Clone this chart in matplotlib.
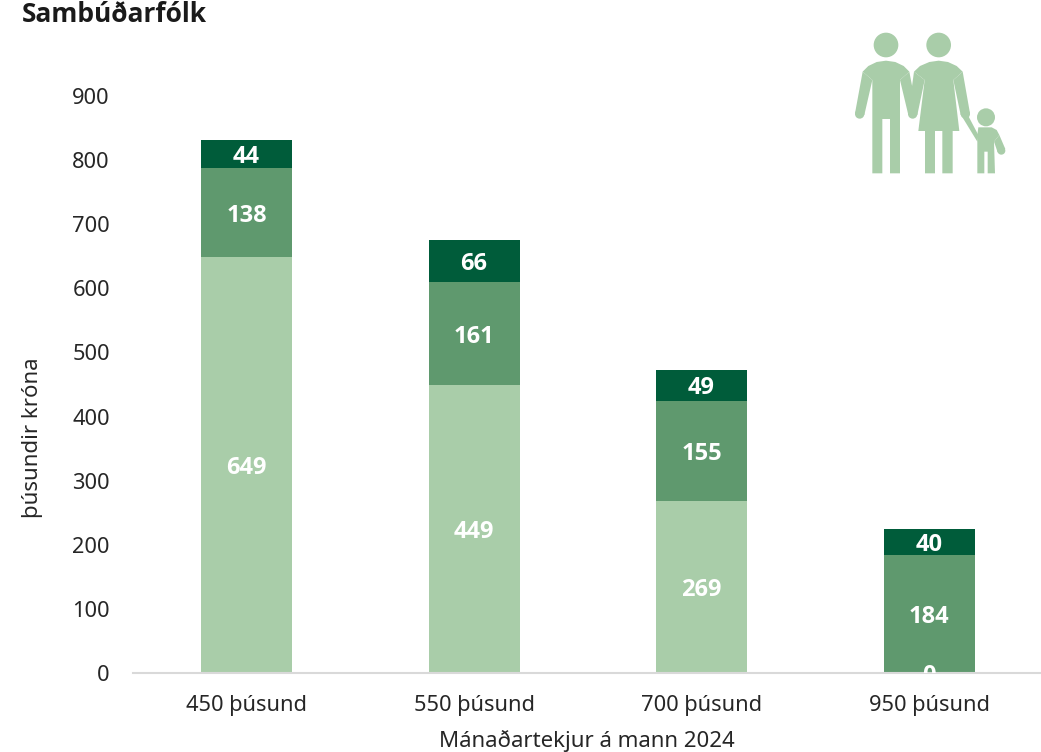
import matplotlib
matplotlib.use('Agg')
import matplotlib.pyplot as plt
from matplotlib.patches import Circle, Polygon

plt.rcParams['font.family'] = ['Noto Sans', 'DejaVu Sans']
bold_font = ['Open Sans', 'DejaVu Sans']

categories = ['450 þúsund', '550 þúsund', '700 þúsund', '950 þúsund']
bottom_vals = [649, 449, 269, 0]
middle_vals = [138, 161, 155, 184]
top_vals = [44, 66, 49, 40]
yticks = [0, 100, 200, 300, 400, 500, 600, 700, 800, 900]

light = '#A9CDA9'
mid = '#5F996E'
dark = '#005C3A'
text_col = '#262626'

W, H = 1041, 752
fig = plt.figure(figsize=(W / 100, H / 100), dpi=100)
ax = fig.add_axes([132.75 / W, (H - 673) / H, 910 / W, 577 / H])

x = range(len(categories))
base = [0, 0, 0, 0]
for vals, col in [(bottom_vals, light), (middle_vals, mid), (top_vals, dark)]:
    ax.bar(x, vals, width=0.4, bottom=base, color=col, linewidth=0)
    for i, v in enumerate(vals):
        # the 0 label gets cut by the axis in the original too
        ax.text(i, base[i] + v / 2, str(v), ha='center', va='center_baseline', color='white',
                fontsize=17, fontweight='bold', family=bold_font, clip_on=True)
    base = [b + v for b, v in zip(base, vals)]

ax.set_xlim(-0.5, 3.5)
ax.set_ylim(0, 900)
ax.set_xticks(list(x))
ax.set_xticklabels(categories)
ax.set_yticks(yticks)
ax.tick_params(axis='both', length=0, labelsize=15.7, labelcolor=text_col)
ax.tick_params(axis='x', pad=15.5)
ax.tick_params(axis='y', pad=16.5)
for s in ['top', 'right', 'left']:
    ax.spines[s].set_visible(False)
ax.spines['bottom'].set_color('#D9D9D9')
ax.spines['bottom'].set_linewidth(1.5)

fig.text(22 / W, 1 - 15 / H, 'Sambúðarfólk', fontsize=19, fontweight='bold', family=bold_font, color='#1a1a1a',
         ha='left', va='center')
fig.text(33 / W, 1 - 438 / H, 'þúsundir króna', fontsize=16, color=text_col, rotation=90, ha='center', va='center')
fig.text(587 / W, 1 - 741 / H, 'Mánaðartekjur á mann 2024', fontsize=16, color=text_col, ha='center', va='center')

# family icon, pixel coords of the picture
icon = fig.add_axes([0, 0, 1, 1], facecolor='none')
icon.set_xlim(0, W)
icon.set_ylim(H, 0)
icon.axis('off')


def px(points):
    return [(840 + a / 3, 20 + b / 3) for a, b in points]


# heads and round hands: x, y, r in zoomed crop coords
for cx, cy, r in [(138, 75, 37), (296, 75, 37), (438, 292, 27), (59, 282, 14), (218, 282, 14), (376, 282, 14),
                  (484, 392, 12)]:
    a, b = px([(cx, cy)])[0]
    icon.add_patch(Circle((a, b), r / 3, color=light, lw=0))

man = [(68, 155), (85, 138), (110, 126), (138, 122), (166, 126), (191, 138), (208, 155), (180, 180), (180, 460),
       (150, 460), (150, 297), (127, 297), (127, 460), (97, 460), (97, 180)]
man_arm_l = [(68, 155), (97, 180), (73, 285), (45, 280)]
man_arm_r = [(208, 155), (180, 180), (205, 285), (232, 280)]
woman = [(222, 155), (240, 138), (268, 126), (296, 122), (324, 126), (350, 138), (368, 155), (340, 180), (358, 333),
         (338, 333), (338, 460), (307, 460), (307, 333), (285, 333), (285, 460), (255, 460), (255, 333), (235, 333),
         (254, 180)]
woman_arm_l = [(222, 155), (254, 180), (232, 285), (205, 280)]
woman_arm_r = [(368, 155), (340, 180), (362, 285), (390, 280)]
woman_hand = [(368, 293), (385, 288), (415, 345), (412, 365)]
child = [(415, 322), (455, 322), (470, 330), (478, 345), (462, 365), (465, 460), (443, 460), (443, 395), (433, 395),
         (433, 460), (412, 460), (412, 345)]
child_arm = [(478, 345), (462, 365), (473, 397), (496, 387)]
for shape in [man, man_arm_l, man_arm_r, woman, woman_arm_l, woman_arm_r, woman_hand, child, child_arm]:
    icon.add_patch(Polygon(px(shape), closed=True, color=light, lw=0))

fig.savefig('out.png', dpi=100)
